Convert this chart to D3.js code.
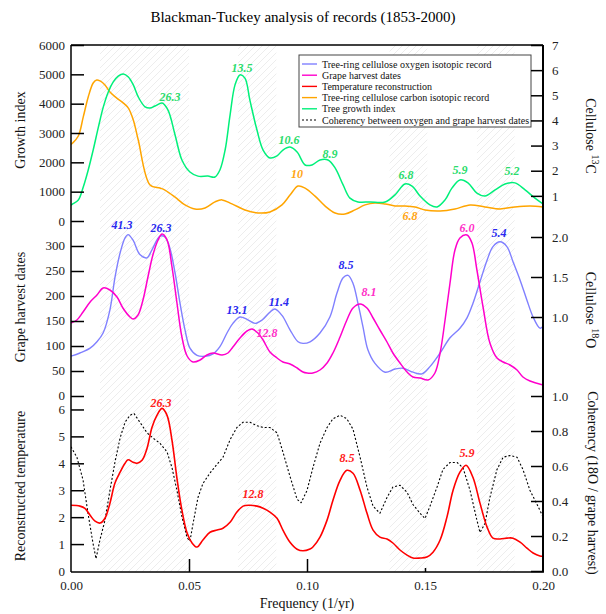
<!DOCTYPE html>
<html><head><meta charset="utf-8">
<script src="https://cdn.jsdelivr.net/npm/d3@7"></script>
<style>body{margin:0;background:#fff} svg{display:block}</style>
</head><body>
<svg id="c" width="606" height="614"></svg>
<script>
// ---------- DATA (frequency in 1/yr, value) ----------
const growthIndex = [[0,540],[0.0007,580],[0.0031,716],[0.0052,1160],[0.0073,1740],[0.0094,2420],[0.0116,3200],[0.0137,3890],[0.0158,4400],[0.0179,4740],[0.02,4940],[0.0222,5010],[0.0243,4910],[0.0264,4640],[0.0285,4230],[0.0314,3890],[0.0335,3850],[0.0356,3920],[0.0386,4020],[0.0411,3780],[0.0441,2930],[0.047,2080],[0.0504,1670],[0.0538,1530],[0.058,1530],[0.061,1500],[0.0631,1740],[0.0653,2420],[0.0674,3610],[0.0695,4640],[0.0716,4980],[0.0737,4870],[0.0758,4120],[0.0788,3100],[0.0814,2420],[0.0843,2150],[0.0873,2220],[0.0898,2420],[0.0928,2520],[0.0958,2350],[0.0992,1910],[0.1021,1910],[0.1055,2080],[0.1089,2080],[0.1119,1810],[0.1153,1230],[0.1182,780],[0.1216,650],[0.1267,650],[0.1331,650],[0.1373,890],[0.1415,1260],[0.1445,1190],[0.1479,850],[0.1521,550],[0.1551,480],[0.1585,720],[0.1614,1120],[0.1648,1400],[0.1682,1300],[0.172,950],[0.1754,850],[0.1797,1060],[0.1839,1260],[0.1881,1300],[0.1924,1060],[0.1966,780],[0.2,580]];
const carbonIsotope = [[0,3.05],[0.0007,3.10],[0.0031,3.38],[0.0052,4.14],[0.0073,4.93],[0.0094,5.49],[0.0109,5.61],[0.0123,5.57],[0.0144,5.41],[0.0165,5.13],[0.0194,4.89],[0.0222,4.69],[0.0243,4.49],[0.0264,4.02],[0.0285,3.22],[0.0335,1.43],[0.0377,1.31],[0.0398,1.23],[0.0441,0.95],[0.0483,0.64],[0.0525,0.48],[0.0568,0.52],[0.061,0.76],[0.064,0.84],[0.0682,0.68],[0.0737,0.44],[0.0792,0.32],[0.0843,0.36],[0.0894,0.64],[0.0928,1.03],[0.0962,1.39],[0.0992,1.31],[0.1034,0.99],[0.1076,0.6],[0.1119,0.32],[0.1161,0.28],[0.1203,0.44],[0.1246,0.64],[0.1288,0.72],[0.1331,0.68],[0.1373,0.6],[0.1415,0.6],[0.1458,0.56],[0.15,0.44],[0.1564,0.4],[0.1627,0.48],[0.1691,0.64],[0.1754,0.56],[0.1818,0.48],[0.1881,0.56],[0.1945,0.6],[0.2,0.56]];
const oxygenIsotope = [[0,0.51],[0.0038,0.55],[0.0081,0.61],[0.011,0.69],[0.0136,0.80],[0.0165,1.09],[0.0186,1.49],[0.0208,1.80],[0.0229,1.99],[0.0242,2.03],[0.0263,1.96],[0.0292,1.78],[0.0322,1.74],[0.0343,1.84],[0.0377,2.01],[0.0398,2.00],[0.0419,1.86],[0.0441,1.55],[0.0462,1.17],[0.0483,0.84],[0.0504,0.61],[0.0534,0.52],[0.0568,0.51],[0.0602,0.54],[0.0631,0.63],[0.0661,0.80],[0.0686,0.92],[0.0716,1.00],[0.0746,0.97],[0.078,0.92],[0.0809,0.96],[0.0843,1.06],[0.0864,1.10],[0.0894,1.02],[0.0928,0.84],[0.0962,0.69],[0.0983,0.67],[0.1013,0.69],[0.1055,0.80],[0.1097,1.00],[0.1127,1.30],[0.1153,1.49],[0.1174,1.52],[0.1195,1.42],[0.1216,1.17],[0.1237,0.88],[0.1258,0.59],[0.1288,0.42],[0.1331,0.31],[0.1373,0.35],[0.1407,0.36],[0.1449,0.31],[0.1487,0.29],[0.1521,0.38],[0.1564,0.55],[0.1606,0.74],[0.1648,0.86],[0.1678,0.99],[0.1703,1.17],[0.1733,1.44],[0.1763,1.71],[0.1788,1.88],[0.1818,1.94],[0.1847,1.88],[0.1873,1.69],[0.1903,1.46],[0.1932,1.21],[0.1958,1.00],[0.1987,0.86],[0.2,0.88]];
const grapeHarvest = [[0,146],[0.0025,152],[0.0051,168],[0.0081,188],[0.011,202],[0.0136,216],[0.0165,212],[0.0195,198],[0.022,176],[0.025,158],[0.0263,154],[0.0284,162],[0.0305,192],[0.0326,238],[0.0347,282],[0.0369,312],[0.0386,324],[0.0407,312],[0.0428,258],[0.0449,186],[0.047,118],[0.0492,80],[0.0517,68],[0.0547,72],[0.0576,82],[0.0602,86],[0.064,82],[0.0665,86],[0.0686,98],[0.0716,116],[0.0746,130],[0.0767,134],[0.0792,126],[0.0814,112],[0.0843,88],[0.0873,76],[0.0898,68],[0.0928,64],[0.0958,56],[0.0983,48],[0.1,46],[0.1025,46],[0.1055,52],[0.1085,66],[0.111,86],[0.114,118],[0.1169,152],[0.1195,176],[0.1225,184],[0.1254,176],[0.128,156],[0.1309,132],[0.1339,108],[0.1364,86],[0.1394,66],[0.1424,48],[0.1449,38],[0.1479,36],[0.1513,32],[0.1542,46],[0.1564,86],[0.1585,152],[0.1606,226],[0.1627,292],[0.1648,316],[0.1678,322],[0.1699,306],[0.172,252],[0.1746,178],[0.1775,106],[0.1805,76],[0.1831,68],[0.186,62],[0.189,52],[0.1915,38],[0.1945,30],[0.2,22]];
const temperature = [[0,2.44],[0.0038,2.41],[0.0059,2.33],[0.0081,2.07],[0.0102,1.85],[0.0123,1.78],[0.0144,1.96],[0.0165,2.52],[0.0186,3.26],[0.0208,3.67],[0.0229,4.0],[0.0242,4.13],[0.0263,4.04],[0.028,4.0],[0.0301,4.11],[0.0322,4.55],[0.0343,5.33],[0.0364,5.78],[0.0386,6.04],[0.0407,5.78],[0.0428,4.85],[0.0449,3.44],[0.047,2.26],[0.0492,1.41],[0.0513,1.04],[0.0534,0.89],[0.0559,1.15],[0.0589,1.44],[0.0619,1.52],[0.0644,1.59],[0.0674,1.81],[0.0703,2.19],[0.0729,2.41],[0.0758,2.44],[0.0788,2.41],[0.0814,2.33],[0.0843,2.19],[0.0873,1.96],[0.0898,1.52],[0.0928,1.07],[0.0958,0.81],[0.0983,0.75],[0.1013,0.82],[0.1025,0.89],[0.1055,1.26],[0.1085,1.89],[0.111,2.63],[0.114,3.37],[0.1169,3.74],[0.1195,3.63],[0.1225,3.0],[0.1254,2.15],[0.128,1.52],[0.1309,1.26],[0.1339,1.19],[0.1364,1.04],[0.1394,0.78],[0.1424,0.59],[0.1449,0.48],[0.1479,0.48],[0.1508,0.52],[0.1534,0.70],[0.1564,1.15],[0.1593,2.0],[0.1619,3.0],[0.1648,3.67],[0.1674,3.93],[0.1703,3.48],[0.1733,2.52],[0.1763,1.63],[0.1788,1.22],[0.1818,1.19],[0.1847,1.22],[0.1873,1.22],[0.1903,1.07],[0.1932,0.85],[0.1958,0.67],[0.1987,0.56],[0.2,0.55]];
const coherency = [[0,0.71],[0.0004,0.70],[0.0025,0.65],[0.0051,0.52],[0.0072,0.33],[0.0093,0.16],[0.0106,0.07],[0.0123,0.18],[0.0144,0.29],[0.0165,0.46],[0.0186,0.62],[0.0208,0.76],[0.0229,0.85],[0.025,0.89],[0.0267,0.90],[0.0292,0.85],[0.0322,0.79],[0.0347,0.76],[0.0377,0.73],[0.0407,0.68],[0.0428,0.59],[0.0449,0.46],[0.047,0.31],[0.0492,0.19],[0.0504,0.17],[0.0517,0.27],[0.0538,0.42],[0.0559,0.50],[0.0589,0.56],[0.0619,0.61],[0.0644,0.65],[0.0674,0.75],[0.0703,0.82],[0.0729,0.85],[0.0758,0.85],[0.0788,0.83],[0.0814,0.82],[0.0843,0.82],[0.0873,0.79],[0.0898,0.68],[0.0928,0.54],[0.0958,0.41],[0.0975,0.39],[0.1,0.46],[0.1025,0.59],[0.1055,0.73],[0.1085,0.82],[0.111,0.87],[0.114,0.89],[0.1169,0.87],[0.1195,0.81],[0.1225,0.65],[0.1254,0.48],[0.128,0.37],[0.1309,0.33],[0.1339,0.42],[0.1364,0.48],[0.1394,0.49],[0.1424,0.45],[0.1449,0.38],[0.1479,0.33],[0.15,0.30],[0.1521,0.37],[0.1551,0.48],[0.1576,0.58],[0.1606,0.62],[0.1636,0.62],[0.1661,0.59],[0.1691,0.46],[0.172,0.29],[0.1733,0.22],[0.1754,0.27],[0.1775,0.42],[0.1805,0.58],[0.1831,0.65],[0.186,0.66],[0.189,0.65],[0.1915,0.58],[0.1945,0.46],[0.1975,0.38],[0.2,0.31]];

// significant frequency bands (hatched)
const hatchBands = [[0.0123,0.050],[0.0708,0.087],[0.135,0.151],[0.172,0.188]];

// peak labels: [freq, value, text]
const growthPeaks = [[0.042,4230,"26.3"],[0.0725,5215,"13.5"],[0.0924,2760,"10.6"],[0.1097,2280,"8.9"],[0.1419,1570,"6.8"],[0.1648,1740,"5.9"],[0.1869,1700,"5.2"]];
const carbonPeaks = [[0.0958,1.87,"10"],[0.1436,0.2,"6.8"]];
const oxygenPeaks = [[0.0216,2.15,"41.3"],[0.0381,2.12,"26.3"],[0.0703,1.09,"13.1"],[0.0881,1.19,"11.4"],[0.1165,1.65,"8.5"],[0.1814,2.05,"5.4"]];
const grapePeaks = [[0.0831,126,"12.8"],[0.1263,208,"8.1"],[0.1678,336,"6.0"]];
const tempPeaks = [[0.0381,6.25,"26.3"],[0.0771,2.86,"12.8"],[0.1169,4.2,"8.5"],[0.1678,4.39,"5.9"]];

// tick values
const xTicks = [0,0.05,0.10,0.15,0.20];
const growthTicks = [0,1000,2000,3000,4000,5000,6000];
const carbonTicks = [1,2,3,4,5,6,7];
const grapeTicks = [0,50,100,150,200,250,300];
const oxygenTicks = [1.0,1.5,2.0];
const tempTicks = [0,1,2,3,4,5,6];
const cohTicks = [0,0.2,0.4,0.6,0.8,1.0];

const legendItems = [
  ["Tree-ring cellulose oxygen isotopic record","#8080ff",null],
  ["Grape harvest dates","#ff00cc",null],
  ["Temperature reconstruction","#ff0000",null],
  ["Tree-ring cellulose carbon isotopic record","#ffa500",null],
  ["Tree growth index","#00f07a",null],
  ["Coherency between oxygen and grape harvest dates","#000","2,2"]
];

// ---------- CHART ----------
const FONT = "'Liberation Serif','DejaVu Serif',serif";
const svg = d3.select('#c').style('font-family', FONT);
const L = 71, R = 543, T = 45, B = 572;
const x = d3.scaleLinear([0,0.2],[L,R]);
const yGrowth = d3.scaleLinear([0,6000],[221,T]);
const yCarbon = d3.scaleLinear([0,7],[221,T]);
const yGrape = d3.scaleLinear([0,350],[396,221]);
const yOxy = d3.scaleLinear([0,2.2],[397,221]);
const yTemp = d3.scaleLinear([0,6.5],[B-1,396]);
const yCoh = d3.scaleLinear([0,1],[B-1,396]);

const defs = svg.append('defs');
const pat = defs.append('pattern').attr('id','hatch').attr('patternUnits','userSpaceOnUse')
  .attr('width',7).attr('height',7);
pat.append('path').attr('d','M0,7L7,0M-1,1L1,-1M6,8L8,6')
  .attr('stroke','#e9e9e9').attr('stroke-width',0.8);
defs.append('clipPath').attr('id','clip').append('rect')
  .attr('x',L).attr('y',T).attr('width',R-L).attr('height',B-T);

// hatch bands
svg.append('g').selectAll('rect').data(hatchBands).join('rect')
  .attr('x',d=>x(d[0])).attr('width',d=>x(d[1])-x(d[0]))
  .attr('y',T).attr('height',B-T).attr('fill','url(#hatch)');

// title
svg.append('text').attr('x',303).attr('y',22).attr('text-anchor','middle')
  .attr('font-size',15).text('Blackman-Tuckey analysis of records (1853-2000)');

// curves
const gC = svg.append('g').attr('clip-path','url(#clip)');
function curve(data, ys, color, w, dash, lin){
  const line = d3.line().x(d=>x(d[0])).y(d=>ys(d[1]))
    .curve(lin ? d3.curveLinear : d3.curveCatmullRom.alpha(0.5));
  const p = gC.append('path').datum(data).attr('d',line).attr('fill','none')
    .attr('stroke',color).attr('stroke-width',w).attr('stroke-linejoin','round');
  if(dash) p.attr('stroke-dasharray',dash);
}
curve(carbonIsotope, yCarbon, '#ffa500', 1.5);
curve(growthIndex, yGrowth, '#00f07a', 1.5);
curve(oxygenIsotope, yOxy, '#8080ff', 1.4);
curve(grapeHarvest, yGrape, '#ff00cc', 1.5);
curve(coherency, yCoh, '#000', 1.1, '2,2', true);
curve(temperature, yTemp, '#ff0000', 1.6);

// peak labels
function peaks(data, ys, color){
  svg.append('g').selectAll('text').data(data).join('text')
    .attr('x',d=>x(d[0])).attr('y',d=>ys(d[1])).attr('dy','0.35em')
    .attr('text-anchor','middle').attr('font-size',12).attr('font-weight','bold')
    .attr('font-style','italic').attr('fill',color).text(d=>d[2]);
}
peaks(growthPeaks, yGrowth, '#2bdc6c');
peaks(carbonPeaks, yCarbon, '#ffa514');
peaks(oxygenPeaks, yOxy, '#2a2af0');
peaks(grapePeaks, yGrape, '#ff30c8');
peaks(tempPeaks, yTemp, '#ff2020');

// axes
function styleAxis(g){
  g.select('.domain').remove();
  g.selectAll('.tick line').attr('stroke','#000').attr('stroke-width',1.5);
  g.selectAll('.tick text').attr('font-size',13).attr('font-family',FONT).attr('fill','#222');
}
svg.append('g').attr('transform',`translate(${L},0)`)
  .call(d3.axisLeft(yGrowth).tickValues(growthTicks).tickSize(-13).tickPadding(6).tickFormat(d3.format('d'))).call(styleAxis);
svg.append('g').attr('transform',`translate(${L},-1)`)
  .call(d3.axisLeft(yGrape).tickValues(grapeTicks).tickSize(-13).tickPadding(6).tickFormat(d3.format('d'))).call(styleAxis)
  .selectAll('.tick line').attr('transform','translate(0,1)');
svg.append('g').attr('transform',`translate(${L},0)`)
  .call(d3.axisLeft(yTemp).tickValues(tempTicks.filter(v=>v>0)).tickSize(-13).tickPadding(6).tickFormat(d3.format('d'))).call(styleAxis);
svg.append('g').attr('transform',`translate(${L},0)`)
  .call(d3.axisLeft(yTemp).tickValues([0]).tickSize(0).tickPadding(6).tickFormat(d3.format('d'))).call(styleAxis);

// legend (drawn before right axes so ticks stay visible)
const lg = svg.append('g');
lg.append('rect').attr('x',299).attr('y',55).attr('width',232).attr('height',72)
  .attr('fill','#fff').attr('stroke','#444').attr('stroke-width',1);
legendItems.forEach((d,i)=>{
  const yy = 64 + i*11.2;
  const ln = lg.append('line').attr('x1',302).attr('x2',317).attr('y1',yy).attr('y2',yy)
    .attr('stroke',d[1]).attr('stroke-width',1.4);
  if(d[2]) ln.attr('stroke-dasharray',d[2]).attr('stroke-width',1.1);
  lg.append('text').attr('x',322).attr('y',yy+3.5).attr('font-size',10).attr('fill','#111').text(d[0]);
});

svg.append('g').attr('transform',`translate(${R},0)`)
  .call(d3.axisRight(yCarbon).tickValues(carbonTicks).tickSize(-12).tickPadding(9).tickFormat(d3.format('d'))).call(styleAxis);
svg.append('g').attr('transform',`translate(${R},0)`)
  .call(d3.axisRight(yOxy).tickValues(oxygenTicks).tickSize(-12).tickPadding(9).tickFormat(d3.format('.1f'))).call(styleAxis);
svg.append('g').attr('transform',`translate(${R},0)`)
  .call(d3.axisRight(yCoh).tickValues(cohTicks).tickSize(-12).tickPadding(9).tickFormat(d3.format('.1f'))).call(styleAxis);

// x axis
svg.append('g').attr('transform',`translate(0,${B})`)
  .call(d3.axisBottom(x).tickValues(xTicks).tickSize(0).tickPadding(9).tickFormat(d3.format('.2f'))).call(styleAxis);
svg.append('g').attr('transform',`translate(0,${B})`)
  .call(d3.axisBottom(x).tickValues([0.05,0.10]).tickSize(-13).tickFormat('')).call(styleAxis);
svg.append('g').attr('transform',`translate(0,${B})`)
  .call(d3.axisBottom(x).tickValues([0.15]).tickSize(-4).tickFormat('')).call(styleAxis);

// frame
svg.append('line').attr('x1',L).attr('x2',R).attr('y1',T).attr('y2',T).attr('stroke','#000').attr('stroke-width',1.5);
svg.append('line').attr('x1',L).attr('x2',R+1).attr('y1',B).attr('y2',B).attr('stroke','#000').attr('stroke-width',1.5);
svg.append('line').attr('x1',L).attr('x2',L).attr('y1',T).attr('y2',B).attr('stroke','#000').attr('stroke-width',1.5);
svg.append('line').attr('x1',R).attr('x2',R).attr('y1',T).attr('y2',B).attr('stroke','#000').attr('stroke-width',2);

// axis titles
function vtitle(xp, yp, rot, parts){
  const t = svg.append('text').attr('transform',`translate(${xp},${yp}) rotate(${rot})`)
    .attr('text-anchor','middle').attr('font-size',14).attr('fill','#111');
  parts.forEach(p=>{
    const s = t.append('tspan').text(p[0]);
    if(p[1]==='sup') s.attr('dy',-6).attr('font-size',10);
    if(p[1]==='down') s.attr('dy',6);
  });
}
vtitle(25,130,-90,[['Growth index']]);
vtitle(25,307,-90,[['Grape harvest dates']]);
vtitle(25,486,-90,[['Reconstructed temperature']]);
vtitle(586,136,90,[['Cellulose '],['13','sup'],['C','down']]);
vtitle(586,310,90,[['Cellulose '],['18','sup'],['O','down']]);
vtitle(588,483,90,[['Coherency (18O / grape harvest)']]);
svg.append('text').attr('x',307).attr('y',608).attr('text-anchor','middle')
  .attr('font-size',14).attr('fill','#111').text('Frequency (1/yr)');
</script>
</body></html>
